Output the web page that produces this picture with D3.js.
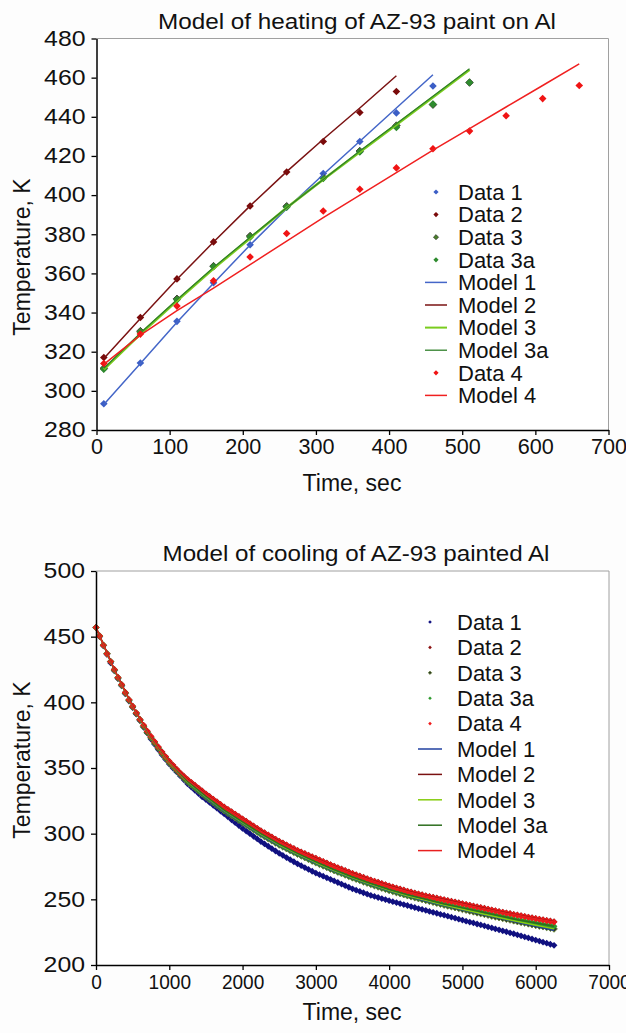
<!DOCTYPE html>
<html><head><meta charset="utf-8">
<script src="https://cdn.jsdelivr.net/npm/d3@7"></script>
<style>
body{margin:0;background:#fdfdfd}
svg{display:block}
text{font-family:"Liberation Sans",Arial,sans-serif;fill:#111}
</style>
</head><body>
<svg id="c" width="626" height="1033"></svg>
<script>
// ---------------- Heating chart data ----------------
const heatTime = [10,60,110,160,210,260,310,360,410,460,510,560,610,660];
const heatData1 = [293.4,314.2,335.5,355.2,374.6,394,411,427.4,442,455.7];
const heatData2 = [317,337.5,357.2,376.1,394.4,411.8,427.4,442.2,452.9];
const heatData3 = [311.5,330.5,347,363.7,379.1,394.3,409,422.5,435.5,446.2,457.5];
const heatData3a = [311,330,346.5,363.5,378.5,393.8,408.5,422,434.5,446.5,457.5];
const heatData4 = [314,329,343.3,356.2,368.4,380.4,391.9,403,413.9,423.7,432.7,440.5,449.3,456];
const heatModel1 = [293,314,335,355,374.5,393,410.5,427.5,444.5,461.5];
const heatModel2 = [316.5,337,357,376,394.5,412,428.5,444.5,461];
const heatModel3 = [311,329,346,362.5,378,393.5,408,422,436,450,464];
const heatModel3a = [311.5,329.5,346.5,363,378.5,393.5,408,422.5,436.5,450.5,464.5];
const heatModel4 = [313.5,328.5,341,352.5,364.5,376.5,388.5,400,411.5,423,434,445,456,467];
const heatXTicks = [0,100,200,300,400,500,600,700];
const heatYTicks = [280,300,320,340,360,380,400,420,440,460,480];

// ---------------- Cooling chart data ----------------
const coolTime = [0,50,100,150,200,250,300,350,400,450,500,550,600,650,700,750,800,850,900,950,1000,1050,1100,1150,1200,1250,1300,1350,1400,1450,1500,1550,1600,1650,1700,1750,1800,1850,1900,1950,2000,2050,2100,2150,2200,2250,2300,2350,2400,2450,2500,2550,2600,2650,2700,2750,2800,2850,2900,2950,3000,3050,3100,3150,3200,3250,3300,3350,3400,3450,3500,3550,3600,3650,3700,3750,3800,3850,3900,3950,4000,4050,4100,4150,4200,4250,4300,4350,4400,4450,4500,4550,4600,4650,4700,4750,4800,4850,4900,4950,5000,5050,5100,5150,5200,5250,5300,5350,5400,5450,5500,5550,5600,5650,5700,5750,5800,5850,5900,5950,6000,6050,6100,6150,6200,6250];
const coolData1 = [457,450,443,436.5,430,424,418,412.5,406.5,401,396,391,386,381,376.5,372,368,364,360,356.5,353,350,347,344,341,338,335.5,333,330.5,328,326,323.8,321.6,319.4,317.2,315,312.8,310.6,308.4,306.2,304,302,300,298,296,294,292.2,290.4,288.6,286.8,285,283.4,281.8,280.2,278.6,277,275.6,274.2,272.8,271.4,270,268.8,267.6,266.4,265.2,264,262.8,261.6,260.4,259.2,258,257,256,255,254,253,252.2,251.4,250.6,249.8,249,248.2,247.5,246.8,246,245.3,244.5,243.8,243,242.3,241.6,240.8,240.1,239.4,238.6,237.9,237.2,236.4,235.7,234.9,234.2,233.4,232.7,232,231.2,230.5,229.8,229,228.3,227.5,226.8,226,225.3,224.5,223.8,223,222.2,221.4,220.6,219.8,219,218.2,217.4,216.6,215.8,215];
const coolData2 = [457,450.5,443.5,437,431,425,419,413.5,407.5,402,397,392,387,382.5,378,374,370,366,362.3,358.7,355.2,352.2,349.2,346.3,343.7,341.3,339.1,336.9,334.7,332.5,330.3,328.3,326.3,324.3,322.3,320.3,318.5,316.7,314.9,313.1,311.3,309.5,307.7,305.9,304.1,302.3,300.7,299.1,297.5,295.9,294.3,292.9,291.5,290.1,288.7,287.3,286.1,284.9,283.7,282.5,281.3,280.1,278.9,277.7,276.5,275.3,274.2,273.1,272,270.9,269.8,268.8,267.8,266.8,265.8,264.8,263.9,263,262.1,261.2,260.3,259.5,258.7,257.9,257.1,256.3,255.6,254.9,254.2,253.5,252.8,252.2,251.6,251,250.4,249.8,249.2,248.6,248,247.4,246.8,246.2,245.6,245,244.4,243.8,243.2,242.6,242,241.4,240.8,240.3,239.7,239.2,238.6,238.1,237.6,237.1,236.5,236,235.5,235,234.5,234,233.5,233];
const coolData3 = [457,450.5,443.5,437,431,424.5,418.5,413,407,401.5,396.5,391.5,386.5,381.5,377,373,369,365,361,357.5,354,351,348,345,342.2,339.5,337.2,334.9,332.6,330.3,328,325.9,323.8,321.7,319.6,317.5,315.7,313.9,312.1,310.3,308.5,306.7,304.9,303.1,301.3,299.5,297.8,296.2,294.6,293,291.4,290,288.6,287.2,285.8,284.4,283.1,281.8,280.5,279.2,277.9,276.7,275.5,274.3,273.1,271.9,270.8,269.7,268.6,267.5,266.4,265.4,264.4,263.4,262.4,261.4,260.4,259.5,258.6,257.7,256.8,256,255.2,254.4,253.6,252.8,252,251.3,250.6,249.9,249.2,248.5,247.8,247.1,246.4,245.7,245,244.4,243.7,243.1,242.4,241.8,241.1,240.5,239.8,239.2,238.6,238,237.3,236.7,236.1,235.5,234.9,234.3,233.7,233.1,232.5,232,231.4,230.8,230.2,229.7,229.2,228.6,228.1,227.5];
const coolData3a = [457,450.5,443.5,437,431,425,419,413.5,407.5,402,397,392,387,382,377.5,373.5,369.5,365.5,361.5,358,354.5,351.5,348.5,345.5,342.7,340,337.7,335.4,333.1,330.8,328.5,326.4,324.3,322.2,320.1,318,316.2,314.4,312.6,310.8,309,307.2,305.4,303.6,301.8,300,298.4,296.8,295.2,293.6,292,290.6,289.2,287.8,286.4,285,283.7,282.4,281.1,279.8,278.5,277.3,276.1,274.9,273.7,272.5,271.4,270.3,269.2,268.1,267,266,265,264,263,262,261.1,260.2,259.3,258.4,257.5,256.7,255.9,255.1,254.3,253.5,252.8,252.1,251.4,250.7,250,249.3,248.6,247.9,247.2,246.5,245.9,245.3,244.7,244.1,243.5,242.9,242.3,241.7,241.1,240.5,239.9,239.3,238.7,238.1,237.5,236.9,236.3,235.7,235.1,234.5,234,233.5,233,232.5,232,231.5,231,230.5,230,229.5];
const coolData4 = [457,450.5,443.5,437,431,425,419,413.5,407.5,402,397,392,387,382.5,378,374,370,366,362,358.5,355,352,349,346,343.5,341,338.8,336.6,334.4,332.2,330,328,326,324,322,320,318.2,316.4,314.6,312.8,311,309.2,307.4,305.6,303.8,302,300.4,298.8,297.2,295.6,294,292.6,291.2,289.8,288.4,287,285.8,284.6,283.4,282.2,281,279.8,278.6,277.4,276.2,275,273.9,272.8,271.7,270.6,269.5,268.5,267.5,266.5,265.5,264.5,263.6,262.7,261.8,260.9,260,259.2,258.4,257.6,256.8,256,255.3,254.6,253.9,253.2,252.5,251.9,251.3,250.7,250.1,249.5,248.9,248.3,247.7,247.1,246.5,245.9,245.3,244.7,244.1,243.5,242.9,242.3,241.7,241.1,240.5,240,239.4,238.9,238.3,237.8,237.3,236.8,236.2,235.7,235.2,234.7,234.2,233.7,233.2,232.7];
const coolModelTime = [0,250,500,750,1000,1250,1500,1750,2000,2250,2500,2750,3000,3250,3500,3750,4000,4250,4500,4750,5000,5250,5500,5750,6000,6250];
const coolModel1 = [457,424.5,396.5,373,354,339.5,327.5,317,308,299,291,284,277.5,271.5,266,261,256.5,252.5,248.8,245.3,242,238.8,235.7,232.6,229.5,226.5];
const coolModel2 = [457,425,397,374,355.2,341.3,330.3,320.3,311.3,302.3,294.3,287.3,281.3,275.3,269.8,264.8,260.3,256.3,252.8,249.8,246.8,243.8,240.8,238.1,235.5,233];
const coolModel3 = [457,424.5,396.5,373,354,339.5,328,317.5,308.5,299.5,291.4,284.4,277.9,271.9,266.4,261.4,256.8,252.8,249.2,245.7,242.4,239.2,236.1,233.1,230.2,227.5];
const coolModel3a = [457,425,397,373.5,354.5,340,328.5,318,309,300,292,285,278.5,272.5,267,262,257.5,253.5,250,246.5,243.5,240.5,237.5,234.5,232,229.5];
const coolModel4 = [457,425,397,374,355,341,330,320,311,302,294,287,281,275,269.5,264.5,260,256,252.5,249.5,246.5,243.5,240.5,237.8,235.2,232.7];
const coolXTicks = [0,1000,2000,3000,4000,5000,6000,7000];
const coolYTicks = [200,250,300,350,400,450,500];

// ---------------- drawing ----------------
const svg = d3.select('#c');

function pairs(xs, ys){ const n = Math.min(xs.length, ys.length); const out=[]; for(let i=0;i<n;i++) out.push([xs[i], ys[i]]); return out; }
function diamond(r){ return `M0,${-r}L${r},0L0,${r}L${-r},0Z`; }

function drawChart(cfg){
  const x = d3.scaleLinear().domain(cfg.xDomain).range([cfg.left, cfg.right]);
  const y = d3.scaleLinear().domain(cfg.yDomain).range([cfg.bottom, cfg.top]);
  const g = svg.append('g');
  g.append('rect').attr('x',cfg.left).attr('y',cfg.top).attr('width',cfg.right-cfg.left).attr('height',cfg.bottom-cfg.top).attr('fill','#ffffff');
  g.append('path').attr('d',`M${cfg.left},${cfg.top}H${cfg.right}V${cfg.bottom}`).attr('fill','none').attr('stroke','#a0a0a0').attr('stroke-width',1);

  const plot = g.append('g');
  cfg.series.forEach(s => {
    const pts = pairs(s.xs, s.ys);
    if (s.type === 'line') {
      plot.append('path').datum(pts)
        .attr('d', d3.line().x(d=>x(d[0])).y(d=>y(d[1])))
        .attr('fill','none').attr('stroke',s.color).attr('stroke-width',s.width||1.5)
        .attr('stroke-linejoin','round');
    } else {
      plot.append('g').selectAll('path').data(pts).join('path')
        .attr('d', diamond(s.r))
        .attr('transform', d=>`translate(${x(d[0])},${y(d[1])})`)
        .attr('fill', s.color)
        .attr('stroke', s.stroke || 'none').attr('stroke-width', s.stroke ? 0.8 : 0);
    }
  });

  const xa = g.append('g').attr('transform',`translate(0,${cfg.bottom})`)
    .call(d3.axisBottom(x).tickValues(cfg.xTicks).tickSize(5).tickSizeOuter(0).tickPadding(4).tickFormat(d3.format('d')));
  const ya = g.append('g').attr('transform',`translate(${cfg.left},0)`)
    .call(d3.axisLeft(y).tickValues(cfg.yTicks).tickSize(5).tickSizeOuter(0).tickPadding(6).tickFormat(d3.format('d')));
  [xa, ya].forEach(a => {
    a.select('.domain').attr('stroke','#000').attr('stroke-width',1.5);
    a.selectAll('.tick line').attr('stroke','#000').attr('stroke-width',1.3);
    a.selectAll('.tick text').attr('fill','#111')
      .style('font-family','"Liberation Sans",Arial,sans-serif');
  });
  xa.selectAll('.tick text').attr('font-size',cfg.xTickFont)
    .attr('textLength', function(){ return this.textContent.length*cfg.xDigitW; })
    .attr('lengthAdjust','spacingAndGlyphs');
  ya.selectAll('.tick text').attr('font-size',21.5)
    .attr('textLength', function(){ return this.textContent.length*13.8; })
    .attr('lengthAdjust','spacingAndGlyphs');

  g.append('text').attr('x',cfg.titleX).attr('y',cfg.titleY).attr('text-anchor','middle').attr('dy','0.35em')
    .attr('font-size',22).attr('textLength',cfg.titleW).attr('lengthAdjust','spacingAndGlyphs').text(cfg.title);
  g.append('text').attr('x',cfg.xLabelX).attr('y',cfg.xLabelY).attr('text-anchor','middle').attr('dy','0.35em')
    .attr('font-size',23).text('Time, sec');
  g.append('text').attr('transform',`translate(${cfg.yLabelX},${cfg.yLabelY}) rotate(-90)`).attr('text-anchor','middle').attr('dy','0.35em')
    .attr('font-size',23).text('Temperature, K');

  const lg = g.append('g');
  cfg.legend.forEach((s,i) => {
    const yy = cfg.legY + i*cfg.legStep;
    if (s.type === 'line') {
      lg.append('line').attr('x1',cfg.legLineX1).attr('x2',cfg.legLineX2).attr('y1',yy).attr('y2',yy)
        .attr('stroke',s.color).attr('stroke-width',Math.min(s.width||1.5,2));
    } else {
      lg.append('path').attr('d',diamond(cfg.legMarkR)).attr('transform',`translate(${cfg.legMarkX},${yy})`)
        .attr('fill',s.color).attr('stroke',s.stroke||'none').attr('stroke-width',s.stroke?0.6:0);
    }
    lg.append('text').attr('x',cfg.legTextX).attr('y',yy).attr('dy','0.35em').attr('font-size',22).text(s.name);
  });
}

// heating series
const hD1 = {name:'Data 1', type:'points', xs:heatTime, ys:heatData1, color:'#3B5EC6', r:3.8};
const hD2 = {name:'Data 2', type:'points', xs:heatTime, ys:heatData2, color:'#7A0A0A', r:3.8};
const hD3 = {name:'Data 3', type:'points', xs:heatTime, ys:heatData3, color:'#4A7F2A', stroke:'#2a2a2a', r:3.8};
const hD3a = {name:'Data 3a', type:'points', xs:heatTime, ys:heatData3a, color:'#2E8B2E', r:3.8};
const hM1 = {name:'Model 1', type:'line', xs:heatTime, ys:heatModel1, color:'#4466C8', width:1.5};
const hM2 = {name:'Model 2', type:'line', xs:heatTime, ys:heatModel2, color:'#7A1212', width:1.5};
const hM3 = {name:'Model 3', type:'line', xs:heatTime, ys:heatModel3, color:'#7ACC1E', width:2.6};
const hM3a = {name:'Model 3a', type:'line', xs:heatTime, ys:heatModel3a, color:'#2F7F2A', width:1.3};
const hD4 = {name:'Data 4', type:'points', xs:heatTime, ys:heatData4, color:'#F01414', r:3.8};
const hM4 = {name:'Model 4', type:'line', xs:heatTime, ys:heatModel4, color:'#F02020', width:1.5};
const heatSeries = [hD1,hD2,hD3,hD3a,hM1,hM2,hM3,hM3a,hD4,hM4];

drawChart({
  xDomain:[0,700], yDomain:[280,480], left:96.5, right:608.5, top:38.5, bottom:430,
  xTicks:heatXTicks, yTicks:heatYTicks, xTickFont:21.5, xDigitW:12,
  title:'Model of heating of AZ-93 paint on Al', titleX:357, titleY:21, titleW:398,
  xLabelX:352, xLabelY:483, yLabelX:22, yLabelY:257,
  series:heatSeries, legend:heatSeries,
  legY:192, legStep:22.6, legLineX1:425, legLineX2:447, legMarkX:436, legMarkR:2.6, legTextX:458
});

// cooling series
const cD1 = {name:'Data 1', type:'points', xs:coolTime, ys:coolData1, color:'#101080', r:3.4};
const cD2 = {name:'Data 2', type:'points', xs:coolTime, ys:coolData2, color:'#8B1010', r:3.4};
const cD3 = {name:'Data 3', type:'points', xs:coolTime, ys:coolData3, color:'#2f3a22', stroke:'#6a8a3a', r:3.4};
const cD3a = {name:'Data 3a', type:'points', xs:coolTime, ys:coolData3a, color:'#2E9A2E', r:3.4};
const cD4 = {name:'Data 4', type:'points', xs:coolTime, ys:coolData4, color:'#F01A1A', r:3.4};
const cM1 = {name:'Model 1', type:'line', xs:coolModelTime, ys:coolModel1, color:'#2040A0', width:1.5};
const cM2 = {name:'Model 2', type:'line', xs:coolModelTime, ys:coolModel2, color:'#7A1010', width:1.5};
const cM3 = {name:'Model 3', type:'line', xs:coolModelTime, ys:coolModel3, color:'#86CC10', width:1.5};
const cM3a = {name:'Model 3a', type:'line', xs:coolModelTime, ys:coolModel3a, color:'#2D6E1E', width:1.5};
const cM4 = {name:'Model 4', type:'line', xs:coolModelTime, ys:coolModel4, color:'#E82020', width:1.5};
const coolSeries = [cD1,cD2,cD3,cD3a,cD4,cM1,cM2,cM3,cM3a,cM4];

drawChart({
  xDomain:[0,7000], yDomain:[200,500], left:96, right:609, top:571, bottom:965,
  xTicks:coolXTicks, yTicks:coolYTicks, xTickFont:20.5, xDigitW:10.6,
  title:'Model of cooling of AZ-93 painted Al', titleX:356, titleY:553, titleW:387,
  xLabelX:352, xLabelY:1012, yLabelX:22, yLabelY:760,
  series:coolSeries, legend:coolSeries,
  legY:622, legStep:25.4, legLineX1:418, legLineX2:442, legMarkX:430, legMarkR:1.8, legTextX:457
});
</script>
</body></html>
